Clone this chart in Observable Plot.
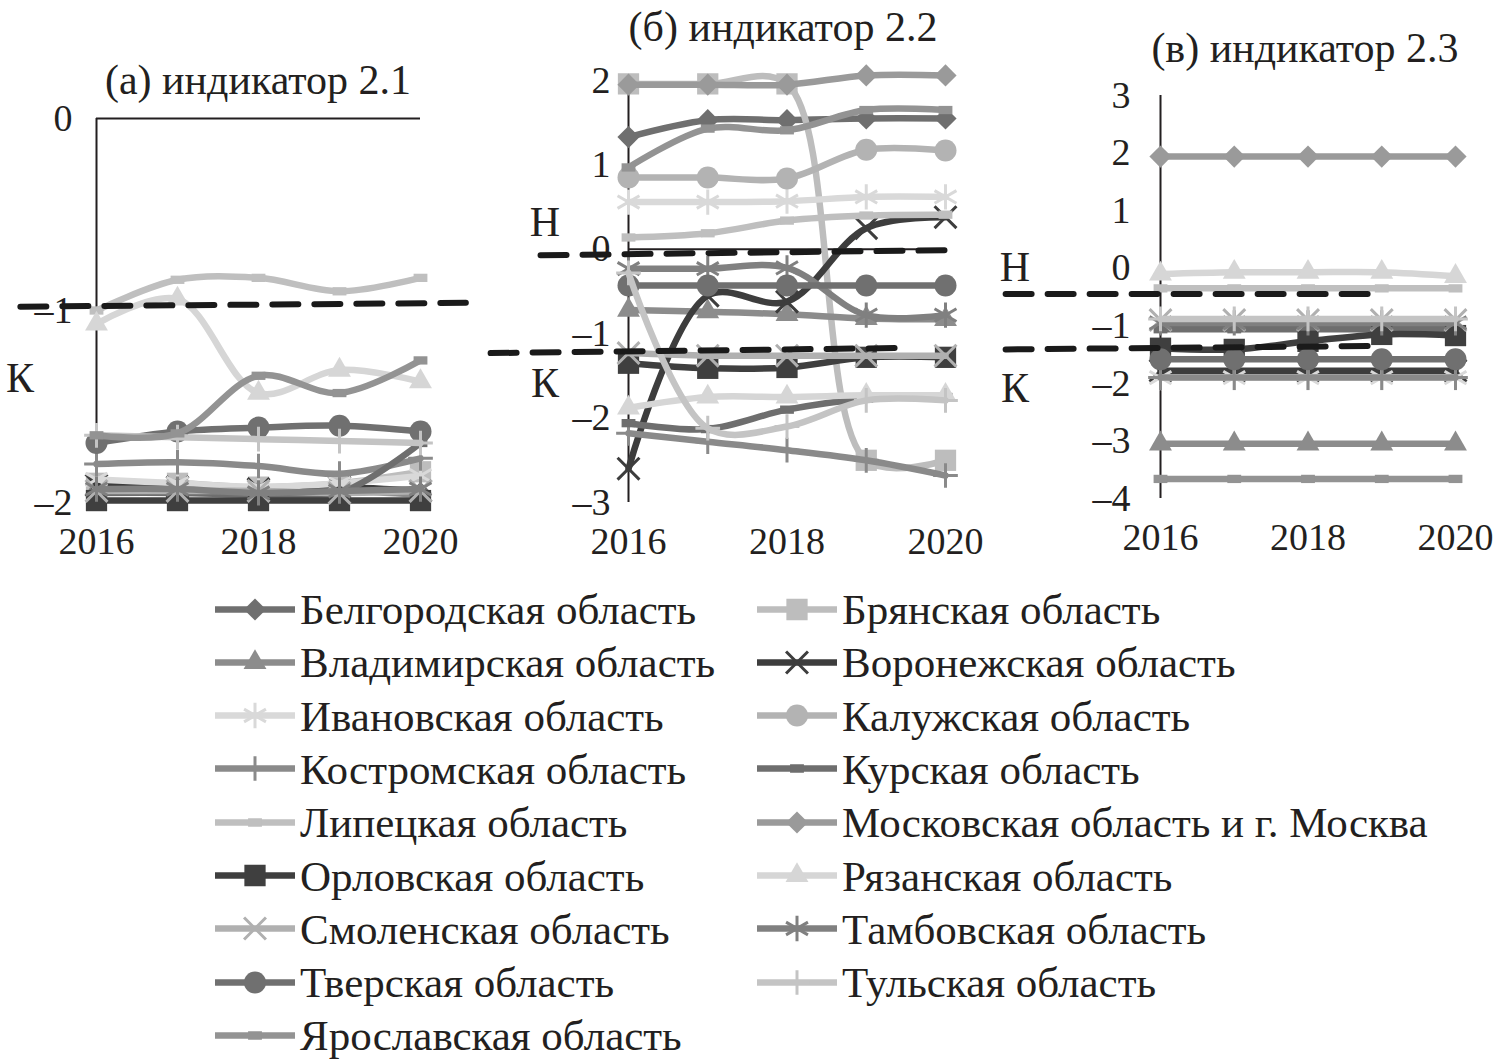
<!DOCTYPE html>
<html><head><meta charset="utf-8">
<script src="https://cdn.jsdelivr.net/npm/d3@7"></script>
<script src="https://cdn.jsdelivr.net/npm/@observablehq/plot@0.6"></script>
<style>
body{margin:0;background:#fff;}
#root{position:relative;width:1502px;height:1063px;font-family:"Liberation Serif","Times New Roman",serif;color:#231f20;overflow:hidden;}
.chart{position:absolute;top:0;}
.lbl{position:absolute;font-size:42px;line-height:1;transform:translate(-50%,-50%);white-space:nowrap;}
.leg{position:absolute;font-size:43px;line-height:1;white-space:nowrap;display:flex;align-items:center;transform:translateY(-50%);}
.leg svg{display:block;margin-right:5px;}
</style></head><body><div id="root"></div>
<script>
// ---------- data ----------
const years = [2016, 2017, 2018, 2019, 2020];
const regions = [
  "Белгородская область", "Брянская область", "Владимирская область", "Воронежская область",
  "Ивановская область", "Калужская область", "Костромская область", "Курская область",
  "Липецкая область", "Московская область и г. Москва", "Орловская область", "Рязанская область",
  "Смоленская область", "Тамбовская область", "Тверская область", "Тульская область",
  "Ярославская область"
];
// indicator 2.1 (region order as above), null = not shown
const ind21 = [
  [-1.91,-1.92,-1.93,-1.93,-1.95],
  [-1.90,-1.90,-1.92,-1.90,-1.84],
  [-1.93,-1.93,-1.95,-1.94,-1.96],
  [-1.91,-1.92,-1.93,-1.92,-1.94],
  [-1.88,-1.90,-1.92,-1.90,-1.86],
  null,
  [-1.80,-1.79,-1.81,-1.85,-1.77],
  [-1.95,-1.95,-1.96,-1.95,-1.69],
  [-1.00,-0.84,-0.83,-0.90,-0.83],
  null,
  [-1.99,-1.99,-1.99,-1.99,-1.99],
  [-1.07,-0.94,-1.43,-1.31,-1.37],
  [-1.94,-1.94,-1.94,-1.95,-1.94],
  [-1.93,-1.93,-1.95,-1.94,-1.93],
  [-1.69,-1.63,-1.61,-1.60,-1.63],
  [-1.65,-1.66,-1.67,-1.68,-1.69],
  [-1.65,-1.64,-1.34,-1.43,-1.26]
];
// indicator 2.2
const ind22 = [
  [1.33,1.53,1.53,1.55,1.55],
  [1.96,1.96,1.96,-2.50,-2.50],
  [-0.72,-0.74,-0.77,-0.82,-0.83],
  [-2.60,-0.55,-0.62,0.25,0.38],
  [0.56,0.56,0.57,0.62,0.62],
  [0.85,0.85,0.84,1.18,1.17],
  [-2.18,-2.28,-2.38,-2.50,-2.68],
  [-2.06,-2.13,-1.90,-1.77,-1.75],
  [0.14,0.19,0.34,0.40,0.41],
  [1.95,1.95,1.95,2.06,2.06],
  [-1.35,-1.41,-1.40,-1.28,-1.28],
  [-1.88,-1.75,-1.75,-1.73,-1.73],
  [-1.23,-1.26,-1.26,-1.26,-1.26],
  [-0.23,-0.23,-0.22,-0.78,-0.78],
  [-0.43,-0.43,-0.43,-0.43,-0.43],
  [-0.28,-2.12,-2.10,-1.79,-1.79],
  [0.97,1.43,1.41,1.65,1.65]
];
// indicator 2.3
const ind23 = [
  null,
  null,
  [-3.05,-3.05,-3.05,-3.05,-3.05],
  [-1.78,-1.78,-1.78,-1.78,-1.78],
  [-1.90,-1.90,-1.90,-1.90,-1.90],
  null,
  [-1.90,-1.90,-1.90,-1.90,-1.90],
  [-1.06,-1.06,-1.06,-1.06,-1.06],
  [-0.35,-0.35,-0.35,-0.35,-0.35],
  [1.94,1.94,1.94,1.94,1.94],
  [-1.39,-1.41,-1.27,-1.15,-1.17],
  [-0.10,-0.07,-0.07,-0.07,-0.14],
  [-0.90,-0.90,-0.90,-0.90,-0.90],
  [-0.95,-0.95,-0.95,-0.95,-0.95],
  [-1.58,-1.58,-1.58,-1.58,-1.58],
  [-0.88,-0.88,-0.88,-0.88,-0.88],
  [-3.66,-3.66,-3.66,-3.66,-3.66]
];
// threshold (Н / К) dashed lines: [x start, x end, y start, y end]
const thrA = [[2015.06, 2020.56, -0.98, -0.96]];
const thrB = [[2014.89, 2020.13, -0.07, -0.01], [2014.26, 2019.37, -1.23, -1.17]];
const thrC = [[2013.9, 2018.98, -0.45, -0.45], [2013.9, 2018.98, -1.41, -1.35]];
const ticksA = [0, -1, -2], ticksB = [2, 1, 0, -1, -2, -3], ticksC = [3, 2, 1, 0, -1, -2, -3, -4];
const xTicks = [2016, 2018, 2020];
const titles = ["(а) индикатор 2.1", "(б) индикатор 2.2", "(в) индикатор 2.3"];

// ---------- styles ----------
const colors = ["#6f6f6f","#bdbdbd","#8c8c8c","#3d3d3d","#d9d9d9","#b3b3b3","#8a8a8a","#6e6e6e","#bfbfbf",
                "#9a9a9a","#3f3f3f","#d6d6d6","#b0b0b0","#808080","#707070","#c4c4c4","#939393"];
const symNames = ["diamond2","square","triangle","times","asterisk","circle","plus","dash","dash",
                  "diamond2","square","triangle","times","asterisk","circle","plus","dash"];
const symbolDash = {draw(ctx, size){ const w = Math.sqrt(size)*1.3, h = w*0.6;
  ctx.moveTo(-w/2,-h/2); ctx.lineTo(w/2,-h/2); ctx.lineTo(w/2,h/2); ctx.lineTo(-w/2,h/2); ctx.closePath(); }};
const symMap = {diamond2: d3.symbolDiamond2, square: d3.symbolSquare, triangle: d3.symbolTriangle,
  times: d3.symbolTimes, asterisk: d3.symbolAsterisk, circle: d3.symbolCircle, plus: d3.symbolPlus, dash: symbolDash};
const symR = {diamond2: 10, square: 12, triangle: 8.5, times: 10, asterisk: 12, circle: 11, plus: 8, dash: 6};
const stroked = new Set(["times","asterisk","plus"]);
const font = '"Liberation Serif","Times New Roman",serif';
const fmt = d => d < 0 ? "\u2013" + Math.abs(d) : String(d);

const root = document.getElementById("root");

function panel(values, thr, yDomain, yTicks, opt) {
  const marks = [];
  marks.push(Plot.ruleX([2016], {y1: yDomain[0], y2: yDomain[1], stroke: "#231f20", strokeWidth: 2}));
  if (opt.zero) marks.push(Plot.ruleY([0], {x1: 2016, x2: 2020, stroke: "#231f20", strokeWidth: 2}));
  regions.forEach((r, i) => {
    if (!values[i]) return;
    const rows = years.map((y, j) => ({year: y, v: values[i][j]}));
    const s = symNames[i];
    marks.push(Plot.line(rows, {x: "year", y: "v", stroke: colors[i], strokeWidth: 6.5, curve: "catmull-rom"}));
    marks.push(Plot.dot(rows, stroked.has(s)
      ? {x: "year", y: "v", symbol: symMap[s], r: symR[s], stroke: colors[i], strokeWidth: 3, fill: "none"}
      : {x: "year", y: "v", symbol: symMap[s], r: symR[s], fill: colors[i], stroke: "none"}));
  });
  thr.forEach(t => {
    marks.push(Plot.line([{x: t[0], y: t[2]}, {x: t[1], y: t[3]}],
      {x: "x", y: "y", stroke: "#1a1a1a", strokeWidth: 6, strokeDasharray: "26,16"}));
  });
  const svg = Plot.plot({
    width: opt.width, height: 580,
    marginLeft: opt.ml, marginRight: opt.mr, marginTop: opt.mt, marginBottom: opt.mb,
    x: {domain: [2016, 2020], ticks: xTicks, tickFormat: d => String(d), tickSize: 0, tickPadding: 25, label: null},
    y: {domain: yDomain, ticks: yTicks, tickFormat: fmt, tickSize: 0, tickPadding: opt.tp, label: null},
    style: {fontSize: "38px", fontFamily: font, background: "transparent", overflow: "visible", color: "#231f20"},
    marks
  });
  svg.classList.add("chart");
  svg.style.left = opt.left + "px";
  svg.style.maxWidth = "none";
  root.appendChild(svg);
}

panel(ind21, thrA, [-2, 0], ticksA, {width: 480, left: 0, ml: 96, mr: 60, mt: 118, mb: 78, tp: 24, zero: true});
panel(ind22, thrB, [-3, 2], ticksB, {width: 520, left: 480, ml: 148, mr: 55, mt: 80, mb: 78, tp: 18, zero: true});
panel(ind23, thrC, [-4, 3], ticksC, {width: 502, left: 1000, ml: 160, mr: 47, mt: 95, mb: 82, tp: 30, zero: false});

// titles and Н/К labels
const labels = [
  [titles[0], 258, 80], [titles[1], 783, 27], [titles[2], 1305, 48],
  ["К", 20, 378], ["Н", 545, 222], ["К", 545, 383], ["Н", 1015, 267], ["К", 1015, 388]
];
labels.forEach(([t, x, y]) => {
  const d = document.createElement("div");
  d.className = "lbl"; d.textContent = t;
  d.style.left = x + "px"; d.style.top = y + "px";
  root.appendChild(d);
});

// legend
regions.forEach((r, i) => {
  const col = i % 2, row = Math.floor(i / 2);
  const d = document.createElement("div");
  d.className = "leg";
  d.style.left = (col ? 757 : 215) + "px";
  d.style.top = (609 + row * 53.3) + "px";
  const s = symNames[i];
  const w = 80, h = 30;
  const sv = d3.create("svg").attr("width", w).attr("height", h);
  sv.append("line").attr("x1", 0).attr("x2", w).attr("y1", h/2).attr("y2", h/2)
    .attr("stroke", colors[i]).attr("stroke-width", 6.5);
  const path = d3.symbol(symMap[s], Math.PI * symR[s] * symR[s])();
  const p = sv.append("path").attr("d", path).attr("transform", `translate(${w/2},${h/2})`);
  if (stroked.has(s)) p.attr("fill", "none").attr("stroke", colors[i]).attr("stroke-width", 3);
  else p.attr("fill", colors[i]);
  d.appendChild(sv.node());
  const t = document.createElement("span"); t.textContent = r;
  d.appendChild(t);
  root.appendChild(d);
});
</script>
</body></html>
